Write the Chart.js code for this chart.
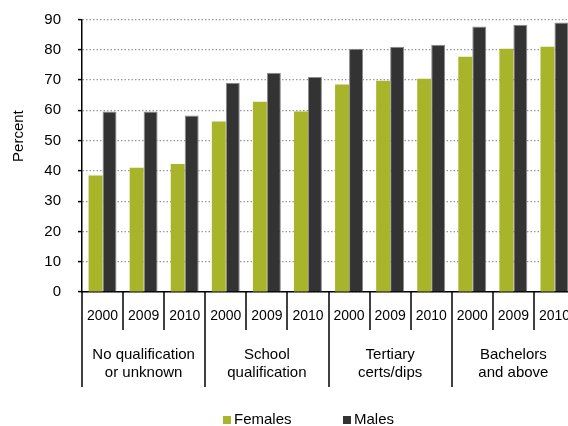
<!DOCTYPE html>
<html>
<head>
<meta charset="utf-8">
<script src="https://cdn.jsdelivr.net/npm/chart.js@4"></script>
<style>
  html, body { margin: 0; padding: 0; background: #fff; overflow: hidden; }
  #wrap { width: 620px; height: 426px; position: relative; }
</style>
</head>
<body>
<div id="wrap"><canvas id="chart"></canvas></div>
<script>
// Data
const years = ['2000', '2009', '2010', '2000', '2009', '2010', '2000', '2009', '2010', '2000', '2009', '2010'];
const groups = [['No qualification', 'or unknown'], ['School', 'qualification'], ['Tertiary', 'certs/dips'], ['Bachelors', 'and above']];
const females = [38.5, 41.0, 42.3, 56.3, 62.8, 59.6, 68.5, 69.8, 70.4, 77.7, 80.3, 81.0];
const males = [59.6, 59.6, 58.3, 69.1, 72.4, 71.0, 80.3, 81.0, 81.7, 87.7, 88.3, 89.0];
const yTicks = [0, 10, 20, 30, 40, 50, 60, 70, 80, 90];

const FONT = "'Liberation Sans', Arial, sans-serif";

// Two-level category labels, separators, axis title and legend
const extras = {
    id: 'extras',
    afterDraw(chart) {
        const ctx = chart.ctx;
        const x = chart.scales.x;
        const y = chart.scales.y;
        const base = chart.chartArea.bottom;

        ctx.save();
        ctx.strokeStyle = '#000';
        ctx.lineWidth = 1.5;
        for (let i = 0; i <= years.length; i++) {
            const px = Math.round(x.getPixelForValue(i - 0.5));
            const long = i % 3 === 0;
            ctx.beginPath();
            ctx.moveTo(px, base);
            ctx.lineTo(px, long ? 387 : 330);
            ctx.stroke();
        }

        ctx.fillStyle = '#000';
        ctx.font = '15px ' + FONT;
        ctx.textAlign = 'center';
        ctx.textBaseline = 'middle';
        groups.forEach((lines, g) => {
            const cx = x.getPixelForValue(g * 3 + 1);
            lines.forEach((t, j) => ctx.fillText(t, cx, 355 + j * 18));
        });

        // y title
        ctx.save();
        ctx.translate(19, y.getPixelForValue(51.5));
        ctx.rotate(-Math.PI / 2);
        ctx.font = '15px ' + FONT;
        ctx.fillText('Percent', 0, 0);
        ctx.restore();

        // legend
        const legendX = [223, 343];
        ctx.textAlign = 'left';
        ctx.font = '15px ' + FONT;
        chart.data.datasets.forEach((ds, k) => {
            ctx.fillStyle = ds.backgroundColor;
            ctx.fillRect(legendX[k], 416, 8, 8);
            ctx.fillStyle = '#000';
            ctx.fillText(ds.label, legendX[k] + 11, 420);
        });
        ctx.restore();
    }
};

new Chart(document.getElementById('chart'), {
    type: 'bar',
    data: {
        labels: years,
        datasets: [
            { label: 'Females', data: females, backgroundColor: '#a8b42a', borderWidth: 0 },
            { label: 'Males', data: males, backgroundColor: '#333333', borderColor: '#8c8c8c', borderWidth: 1 }
        ]
    },
    options: {
        responsive: true,
        maintainAspectRatio: false,
        animation: false,
        events: [],
        layout: { padding: { left: 0, top: 19.5, right: 45, bottom: 0 } },
        datasets: { bar: { categoryPercentage: 0.68, barPercentage: 1.0 } },
        plugins: { legend: { display: false }, tooltip: { enabled: false } },
        scales: {
            x: {
                grid: { display: false, drawTicks: false },
                border: { display: true, color: '#000', width: 1.5 },
                ticks: { color: '#000', font: { family: FONT, size: 14 }, padding: 16, maxRotation: 0, autoSkip: false },
                afterFit(scale) { scale.height = 134; }
            },
            y: {
                min: 0,
                max: 90,
                afterBuildTicks(scale) { scale.ticks = yTicks.map(v => ({ value: v })); },
                grid: { color: '#999', tickColor: '#000', tickLength: 4, tickWidth: 1.5, lineWidth: 1.2 },
                border: { display: true, color: '#000', width: 1.5, dash: [1.5, 2] },
                ticks: { color: '#000', font: { family: FONT, size: 15 }, padding: 17 },
                afterFit(scale) {
                    scale.width = 82;
                    scale.paddingTop = 0;
                    scale.paddingBottom = 0;
                }
            }
        }
    },
    plugins: [extras]
});
</script>
</body>
</html>
